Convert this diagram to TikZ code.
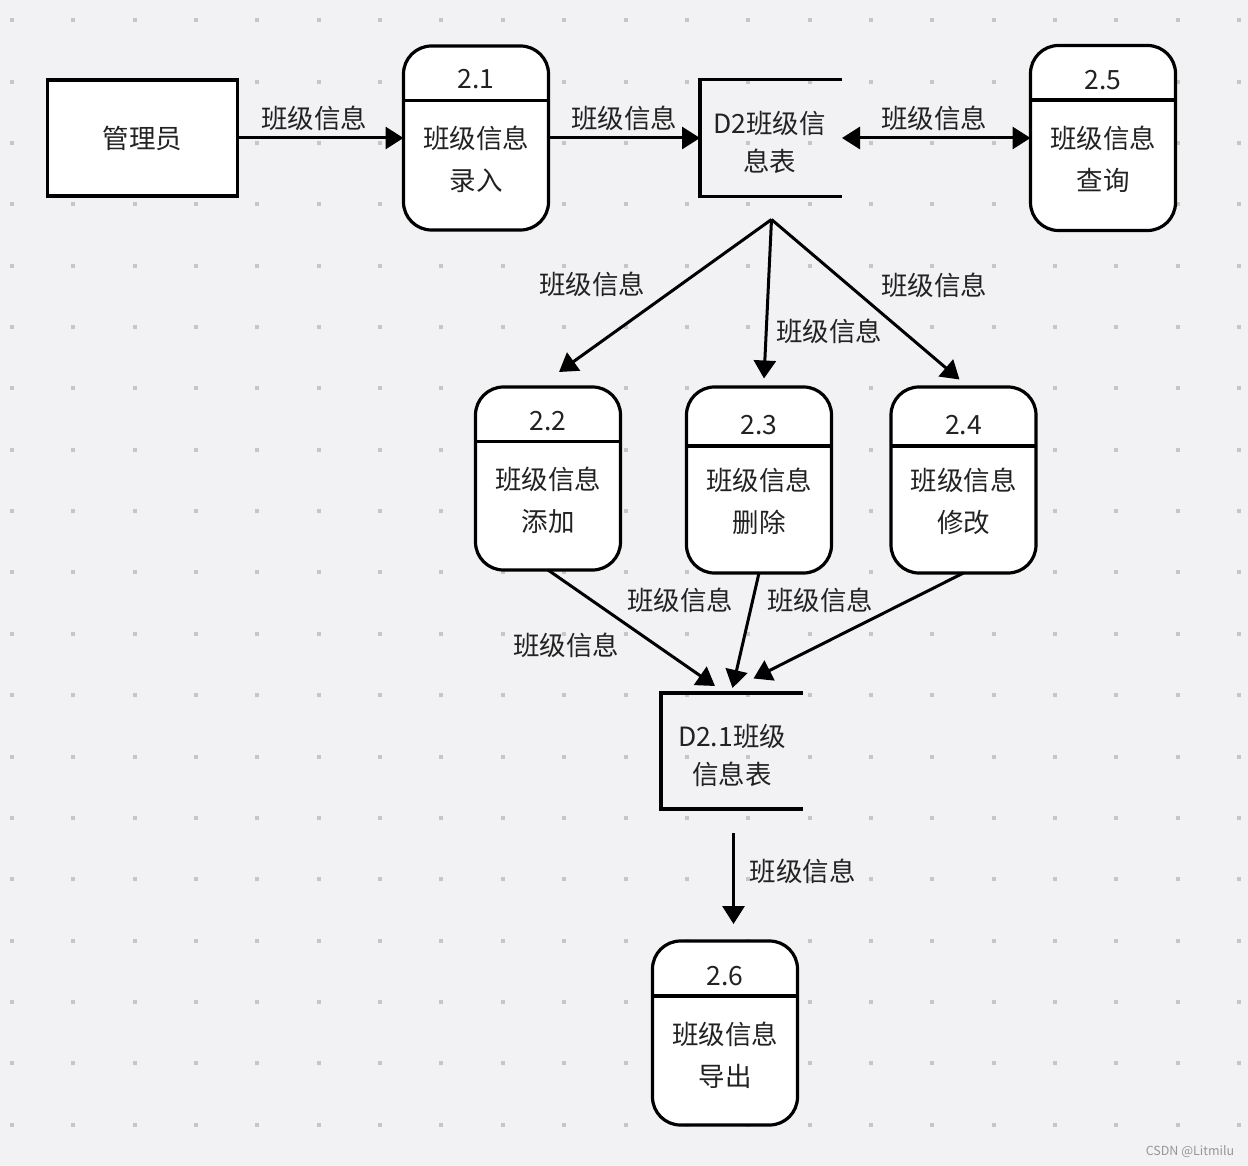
\documentclass[tikz,border=0pt]{standalone}
\usepackage{fontspec}
\setmainfont{Noto Sans CJK SC}
\usetikzlibrary{arrows.meta}
\definecolor{bgc}{RGB}{242,242,244}
\definecolor{dotc}{RGB}{198,198,200}
\definecolor{ink}{RGB}{34,34,34}
\definecolor{wmc}{RGB}{150,150,150}
\begin{document}
\begin{tikzpicture}[x=1pt,y=-1pt,
  proc/.style={draw=black, fill=white, line width=3.2pt, rounded corners=28pt, minimum width=145pt, inner sep=0pt, outer sep=0pt},
  divline/.style={line width=3.2pt},
  ent/.style={draw=black, fill=white, line width=3.8pt, minimum width=190pt, minimum height=116pt, inner sep=0pt, outer sep=0pt, text=ink, font=\fontsize{26.5}{32}\selectfont},
  store/.style={minimum width=142pt, minimum height=117pt, inner sep=0pt, outer sep=0pt},
  storeline/.style={line width=3.2pt},
  flow/.style={line width=3pt, -{Triangle[length=18pt,width=22pt]}},
  bflow/.style={line width=3pt, {Triangle[length=18pt,width=22pt]}-{Triangle[length=18pt,width=22pt]}},
  txt/.style={text=ink, font=\fontsize{26.5}{41.7}\selectfont, align=center, inner sep=0pt},
  stxt/.style={text=ink, font=\fontsize{26.5}{38.7}\selectfont, align=center, inner sep=0pt},
  lbl/.style={text=ink, font=\fontsize{26.5}{32}\selectfont, inner sep=0pt},
  wmark/.style={text=wmc, font=\fontsize{12.5}{15}\selectfont, inner sep=0pt},
]
% background and bounding box
\fill[bgc] (0,0) rectangle (1248,1166);
\useasboundingbox (0,0) rectangle (1248,1166);
% dot grid
\foreach \i in {0,...,20} {
  \foreach \j in {0,...,18} {
    \fill[dotc] ({12+61.35*\i-2},{20.3+61.35*\j-2}) rectangle ++(4,4);
  }
}

% external entity
\node[ent] (admin) at (142.5,138) {管理员};

% process 2.1
\node[proc, minimum height=184pt] (p21) at (476,138) {};
\draw[divline] (403.5,100.5) -- (548.5,100.5);
\node[txt] (p21n) at (476,79.5) {2.1};
\node[txt] (p21t) at (476,159) {班级信息\\录入};

% process 2.5
\node[proc, minimum height=185pt] (p25) at (1103,138) {};
\draw[divline] (1030.5,100) -- (1175.5,100);
\node[txt] (p25n) at (1103,80) {2.5};
\node[txt] (p25t) at (1103,159) {班级信息\\查询};

% process 2.2
\node[proc, minimum height=183pt] (p22) at (548,478.5) {};
\draw[divline] (475.5,441.7) -- (620.5,441.7);
\node[txt] (p22n) at (548,421.5) {2.2};
\node[txt] (p22t) at (548,500) {班级信息\\添加};

% process 2.3
\node[proc, minimum height=186pt] (p23) at (759,480) {};
\draw[divline] (686.5,446) -- (831.5,446);
\node[txt] (p23n) at (759,425) {2.3};
\node[txt] (p23t) at (759,501.5) {班级信息\\删除};

% process 2.4
\node[proc, minimum height=186pt] (p24) at (963.5,480) {};
\draw[divline] (891,446) -- (1036,446);
\node[txt] (p24n) at (963.5,425) {2.4};
\node[txt] (p24t) at (963.5,501.5) {班级信息\\修改};

% process 2.6
\node[proc, minimum height=184pt] (p26) at (725,1033) {};
\draw[divline] (652.5,996) -- (797.5,996);
\node[txt] (p26n) at (725,976) {2.6};
\node[txt] (p26t) at (725,1055) {班级信息\\导出};

% data store D2
\node[store] (d2) at (771,138) {};
\draw[storeline] (d2.north east) -- (d2.north west) -- (d2.south west) -- (d2.south east);
\node[stxt] (d2t) at (769.5,142.5) {D2班级信\\息表};

% data store D2.1
\node[store, minimum height=116pt] (d21) at (732,751) {};
\draw[storeline] (d21.north east) -- (d21.north west) -- (d21.south west) -- (d21.south east);
\node[stxt] (d21t) at (732,755.5) {D2.1班级\\信息表};

% free connector ends
\coordinate (apex) at (771.5,219.5);
\coordinate (t22) at (559,372);
\coordinate (t23) at (764,378.5);
\coordinate (t24) at (959.5,379.5);
\coordinate (a22) at (715,686);
\coordinate (a23) at (732.5,688);
\coordinate (a24) at (753.5,678.5);
\coordinate (s26) at (733.5,833);
\coordinate (t26) at (733.5,924);

% connectors
\draw[flow] (admin.east) -- (p21.west);
\draw[flow] (p21.east) -- (d2.west);
\draw[bflow] (d2.east) -- (p25.west);
\draw[flow] (apex) -- (t22);
\draw[flow] (apex) -- (t23);
\draw[flow] (apex) -- (t24);
\draw[flow] (p22.south) -- (a22);
\draw[flow] (p23.south) -- (a23);
\draw[flow] (p24.south) -- (a24);
\draw[flow] (s26) -- (t26);

% connector labels
\node[lbl] (l1) at (314,118) {班级信息};
\node[lbl] (l2) at (624,118) {班级信息};
\node[lbl] (l3) at (934,118) {班级信息};
\node[lbl] (l4) at (592,284) {班级信息};
\node[lbl] (l5) at (829,331) {班级信息};
\node[lbl] (l6) at (934,285) {班级信息};
\node[lbl] (l7) at (566,645) {班级信息};
\node[lbl] (l8) at (680,600) {班级信息};
\node[lbl] (l9) at (820,600) {班级信息};
\node[lbl] (l10) at (802.5,871.5) {班级信息};

% watermark
\node[wmark] (wm) at (1190,1152) {CSDN @Litmilu};
\end{tikzpicture}
\end{document}
